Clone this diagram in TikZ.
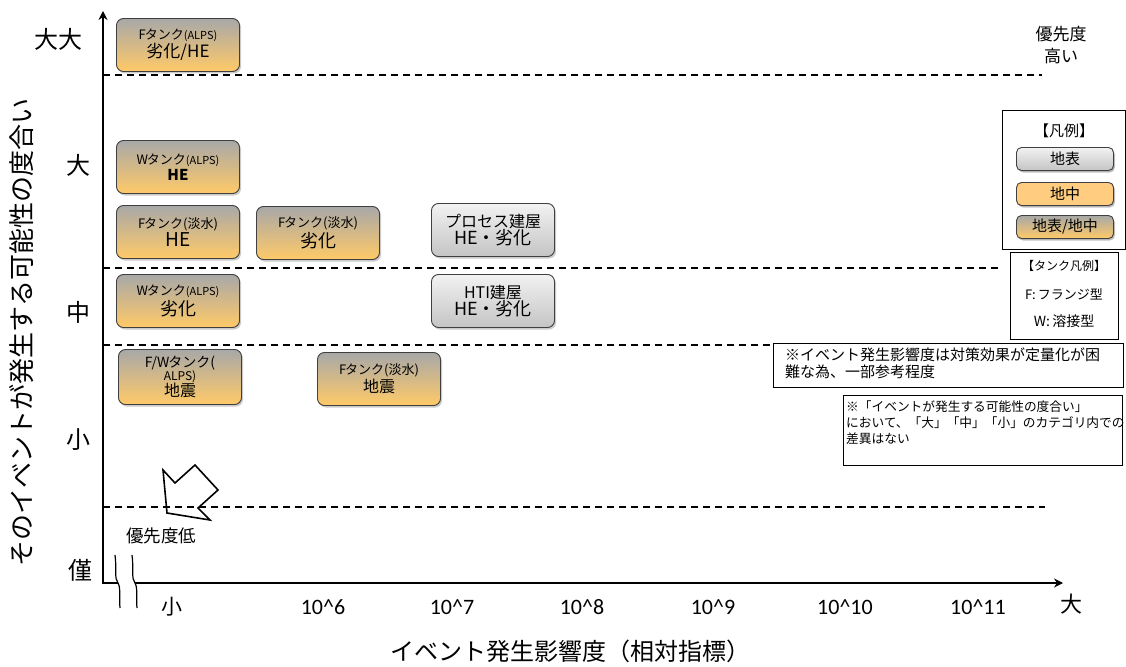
\documentclass[tikz,border=0pt]{standalone}
\usepackage{fontspec}
\setmainfont{Noto Sans CJK JP}
\newfontfamily\lat{Carlito}
\usetikzlibrary{shadows,arrows.meta}
\definecolor{topgray}{RGB}{168,168,168}
\definecolor{botorange}{RGB}{255,202,104}
\definecolor{ltgray}{RGB}{242,242,242}
\definecolor{mdgray}{RGB}{196,196,196}
\definecolor{solorange}{RGB}{255,204,128}
\newcommand{\fs}[1]{\fontsize{#1}{#1}\selectfont}
\tikzset{
  base/.style={rounded corners=7pt, draw=black!75, line width=0.9pt, align=center, inner sep=1pt,
    drop shadow={shadow xshift=1.5pt, shadow yshift=-2pt, fill=black!35, opacity=0.6}},
  mixbox/.style={base, top color=topgray, bottom color=botorange, minimum width=123pt, minimum height=53pt},
  graybox/.style={base, top color=ltgray, bottom color=mdgray, minimum width=123pt, minimum height=53pt},
  legmix/.style={base, rounded corners=5pt, top color=topgray, bottom color=botorange, minimum width=97pt, minimum height=23pt, drop shadow={shadow xshift=1pt, shadow yshift=-1.5pt, fill=black!35, opacity=0.6}},
  leggray/.style={base, rounded corners=5pt, top color=ltgray, bottom color=mdgray, minimum width=97pt, minimum height=23pt, drop shadow={shadow xshift=1pt, shadow yshift=-1.5pt, fill=black!35, opacity=0.6}},
  legorange/.style={base, rounded corners=5pt, fill=solorange, minimum width=97pt, minimum height=23pt, drop shadow={shadow xshift=1pt, shadow yshift=-1.5pt, fill=black!35, opacity=0.6}},
  sep/.style={dashed, dash pattern=on 7pt off 5pt, line width=1.1pt},
  axis/.style={line width=1.6pt, -{Stealth[length=9pt,width=9pt]}},
  ylab/.style={font=\fs{24}},
  xlab/.style={font=\lat\fs{22}},
  notebox/.style={draw=black, line width=1.3pt, fill=white, align=left, inner sep=0pt, anchor=north west},
}
\begin{document}
\begin{tikzpicture}[x=1pt,y=-1pt]
\useasboundingbox (0,0) rectangle (1126,666);
% dashed separators
\draw[sep] (103,75) -- (1042,75);
\draw[sep] (103,268) -- (1002,268);
\draw[sep] (103,345) -- (773,345);
\draw[sep] (103,507) -- (1045,507);
% axes
\coordinate (o) at (103,583);
\coordinate (ytip) at (103,11);
\coordinate (xtip) at (1063,583);
\coordinate (b1) at (118,583);
\coordinate (b2) at (135,583);
\draw[axis] (o) -- (ytip);
\draw[line width=1.6pt] (103,584) -- (o) -- (b1);
\draw[axis] (b2) -- (xtip);
% break marks
\draw[line width=1.2pt] (115,555) .. controls (117,570) and (114,578) .. (b1) .. controls (121,588) and (119,598) .. (120,608);
\draw[line width=1.2pt] (132,555) .. controls (134,570) and (131,578) .. (b2) .. controls (138,588) and (136,598) .. (137,608);
% y labels
\node[ylab] (yy2) at (58,39) {大大};
\node[ylab] (yy) at (78,165) {大};
\node[ylab] (ym) at (78,312) {中};
\node[ylab] (ys) at (78,440) {小};
\node[ylab] (yk) at (80,570) {僅};
\node[rotate=90, font=\fs{26}] (ytitle) at (22,332) {そのイベントが発生する可能性の度合い};
% x labels
\node[font=\fs{21}] (xs) at (172,607) {小};
\node[xlab] (x6) at (323,607) {10\^{}6};
\node[xlab] (x7) at (452,607) {10\^{}7};
\node[xlab] (x8) at (582,607) {10\^{}8};
\node[xlab] (x9) at (713,607) {10\^{}9};
\node[xlab] (x10) at (845,607) {10\^{}10};
\node[xlab] (x11) at (978,607) {10\^{}11};
\node[font=\fs{22}] (xl) at (1071,604) {大};
\node[font=\fs{24}] (xtitle) at (570,651) {イベント発生影響度（相対指標）};
% boxes
\node[mixbox] (n1) at (178,45) {{\fs{13}F\kern-1ptタンク\fs{11}(ALPS)}\\[1pt]{\fs{17}劣化/HE}};
\node[mixbox] (n2) at (178,167) {{\fs{13}W\kern-1ptタンク\fs{11}(ALPS)}\\[2pt]{\fs{15}\bfseries HE}};
\node[mixbox] (n3) at (178,232) {{\fs{13}F\kern-1ptタンク(淡水)}\\[1pt]{\fs{19}HE}};
\node[mixbox] (n4) at (318,233) {{\fs{13}F\kern-1ptタンク(淡水)}\\[1pt]{\fs{18}劣化}};
\node[graybox] (n5) at (493,230) {{\fs{16}プロセス建屋}\\[0pt]{\fs{18}HE・劣化}};
\node[mixbox] (n6) at (178,301) {{\fs{13}W\kern-1ptタンク\fs{11}(ALPS)}\\[1pt]{\fs{18}劣化}};
\node[graybox] (n7) at (493,301) {{\fs{16}HTI建屋}\\[0pt]{\fs{18}HE・劣化}};
\node[mixbox, minimum height=55pt] (n8) at (180,377) {{\fs{14}F/W\kern-1ptタンク(}\\[-1pt]{\fs{12}ALPS)}\\[-1pt]{\fs{16}地震}};
\node[mixbox] (n9) at (379,379) {{\fs{13}F\kern-1ptタンク(淡水)}\\[1pt]{\fs{16}地震}};
% priority labels
\node[font=\fs{17}, align=center] (hi) at (1061,45) {優先度\\[5pt]高い};
\node[font=\fs{17.5}] (lo) at (161,536) {優先度低};
% big outline arrow
\draw[line width=1.6pt, line join=miter] (167,513) -- (163,470) -- (175,483) -- (195,465) -- (218,490) -- (198,508) -- (210,520) -- cycle;
% legend
\node[draw=black, line width=1.3pt, minimum width=123pt, minimum height=139pt, anchor=north west, inner sep=0pt] (leg) at (1002,110) {};
\node[font=\fs{15}] (legt) at (1064,131) {【凡例】};
\node[leggray] (lg1) at (1065,159) {\fs{15}地表};
\node[legorange] (lg2) at (1065,194) {\fs{15}地中};
\node[legmix] (lg3) at (1065,227) {\fs{15}地表/地中};
\node[draw=black, line width=1.3pt, minimum width=108pt, minimum height=87pt, anchor=north west, inner sep=0pt] (tleg) at (1010,252) {};
\node[font=\fs{12}] (tl1) at (1064,266) {【タンク凡例】};
\node[font=\fs{13}] (tl2) at (1064,294) {F:\,フランジ型};
\node[font=\fs{14}] (tl3) at (1064,321) {W:\,溶接型};
% notes
\node[notebox, minimum width=350pt, minimum height=44pt] (note1) at (773,343) {};
\node[anchor=north west, align=left, font=\fs{15}, inner sep=0pt] (note1t) at (785,348) {※イベント発生影響度は対策効果が定量化が困\\[2pt]難な為、一部参考程度};
\node[notebox, minimum width=279pt, minimum height=70pt] (note2) at (843,395) {};
\node[anchor=north west, align=left, font=\fs{12.7}, inner sep=0pt] (note2t) at (846,401) {※「イベントが発生する可能性の度合い」\\[3pt]において、「大」「中」「小」のカテゴリ内での\\[3pt]差異はない};
\end{tikzpicture}
\end{document}
